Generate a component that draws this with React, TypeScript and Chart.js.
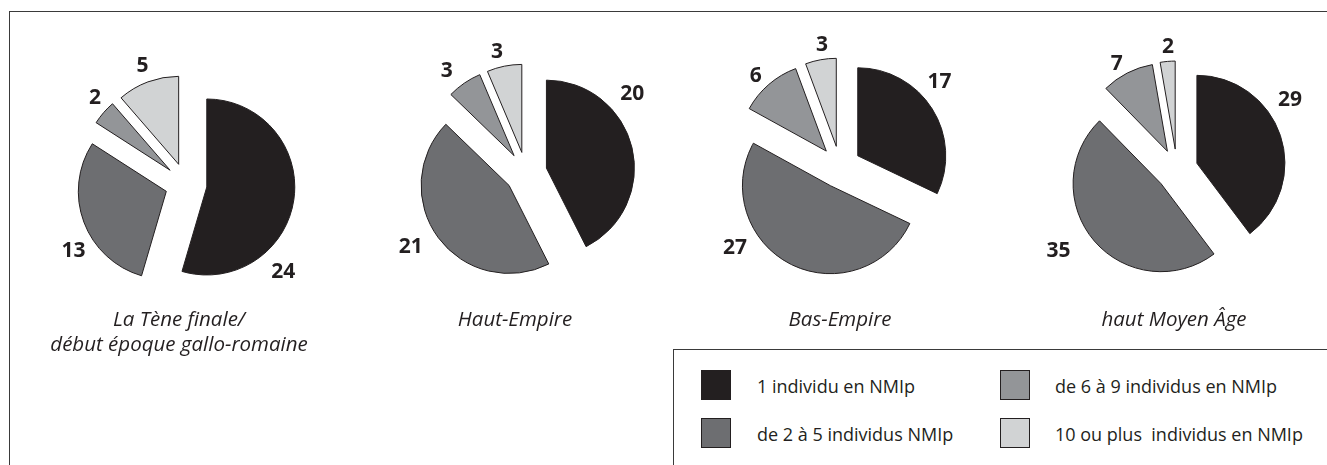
import React, { useEffect, useRef } from 'react';
import { Chart, PieController, ArcElement } from 'chart.js';

// ---------- data ----------
const PERIODS = ['La Tène finale/\ndébut époque gallo-romaine', 'Haut-Empire', 'Bas-Empire', 'haut Moyen Âge'];
const CATEGORIES = [
  '1 individu en NMIp',
  'de 2 à 5 individus NMIp',
  'de 6 à 9 individus en NMIp',
  '10 ou plus  individus en NMIp',
];
const LA_TENE = [24, 13, 2, 5];
const HAUT_EMPIRE = [20, 21, 3, 3];
const BAS_EMPIRE = [17, 27, 6, 3];
const HAUT_MOYEN_AGE = [29, 35, 7, 2];
const SERIES = [LA_TENE, HAUT_EMPIRE, BAS_EMPIRE, HAUT_MOYEN_AGE];

// ---------- style / layout ----------
const COLORS = ['#231f20', '#6d6e71', '#939598', '#d1d3d4'];
const INK = '#231f20';
const PIE_CENTERS = [[186, 184], [526, 173], [840, 167], [1177, 170]];
const TITLE_X = [179, 515, 840, 1174];
const RADIUS = 88;
const EXPLODE = 21;
const CANVAS = 320;
// label placement: [angle clockwise from top (deg), distance from pie centre (px)]
const LABEL_POLAR = [
  [[131.6, 130], [240, 130], [313.7, 126], [340, 127]],
  [[53, 133], [238, 136], [322.5, 130], [346.7, 126]],
  [[49, 132], [232.7, 132], [317.6, 125], [351.7, 125]],
  [[57.5, 134], [236, 143], [330.7, 123], [355.9, 125]],
];

class ExplodedArc extends ArcElement {
  static id = 'explodedArc';
  draw(ctx: CanvasRenderingContext2D) {
    const half = ((this as any).startAngle + (this as any).endAngle) / 2;
    ctx.save();
    ctx.translate(Math.cos(half) * EXPLODE, Math.sin(half) * EXPLODE);
    super.draw(ctx);
    ctx.restore();
  }
}

class ExplodedPie extends PieController {
  static id = 'explodedPie';
  static defaults = { dataElementType: 'explodedArc' };
}

Chart.register(ArcElement, PieController, ExplodedArc as any, ExplodedPie as any);

function labelPlugin(p: number) {
  return {
    id: 'sliceLabels' + p,
    afterDatasetsDraw(chart: any) {
      const meta = chart.getDatasetMeta(0);
      const ctx = chart.ctx as CanvasRenderingContext2D;
      ctx.save();
      ctx.font = 'bold 21px "Open Sans"';
      ctx.fillStyle = INK;
      ctx.textAlign = 'center';
      ctx.textBaseline = 'alphabetic';
      meta.data.forEach((arc: any, i: number) => {
        const [deg, dist] = LABEL_POLAR[p][i];
        const a = (deg * Math.PI) / 180;
        const x = arc.x + dist * Math.sin(a);
        const y = arc.y - dist * Math.cos(a);
        ctx.fillText(String(SERIES[p][i]), x, y + 7.5);
      });
      ctx.restore();
    },
  };
}

function PieCanvas({ p }: { p: number }) {
  const ref = useRef<HTMLCanvasElement>(null);
  useEffect(() => {
    if (!ref.current) return;
    const chart = new Chart(ref.current, {
      type: 'explodedPie' as any,
      data: {
        labels: CATEGORIES,
        datasets: [
          {
            data: SERIES[p],
            backgroundColor: COLORS,
            borderColor: INK,
            borderWidth: 1,
          },
        ],
      },
      options: {
        responsive: false,
        animation: false,
        radius: RADIUS,
        layout: { padding: 0 },
        events: [],
        plugins: { legend: { display: false }, tooltip: { enabled: false } },
      } as any,
      plugins: [labelPlugin(p)],
    });
    return () => chart.destroy();
  }, [p]);
  const [cx, cy] = PIE_CENTERS[p];
  return (
    <canvas
      ref={ref}
      width={CANVAS}
      height={CANVAS}
      style={{ position: 'absolute', left: cx - CANVAS / 2, top: cy - CANVAS / 2, width: CANVAS, height: CANVAS }}
    />
  );
}

const LEGEND_POS = [
  { sx: 701, sy: 370, tx: 757 },
  { sx: 701, sy: 418, tx: 757 },
  { sx: 1000, sy: 370, tx: 1055 },
  { sx: 1000, sy: 418, tx: 1055 },
];

export default function App() {
  return (
    <div
      style={{
        position: 'absolute',
        left: 0,
        top: 0,
        width: 1327,
        height: 465,
        overflow: 'hidden',
        background: '#fff',
        fontFamily: '"Open Sans", sans-serif',
        color: INK,
      }}
    >
      {/* frame lines */}
      <div
        style={{
          position: 'absolute',
          left: 9,
          top: 11,
          width: 1318,
          height: 460,
          borderTop: '1px solid #3a3a3a',
          borderLeft: '1px solid #3a3a3a',
          boxSizing: 'border-box',
        }}
      />
      {SERIES.map((_, p) => (
        <PieCanvas key={p} p={p} />
      ))}
      {PERIODS.map((t, p) => (
        <div
          key={'t' + p}
          style={{
            position: 'absolute',
            left: TITLE_X[p] - 200,
            width: 400,
            top: 306,
            textAlign: 'center',
            fontStyle: 'italic',
            fontSize: 20.5,
            lineHeight: '25px',
            whiteSpace: 'pre',
          }}
        >
          {t}
        </div>
      ))}
      {/* legend box */}
      <div
        style={{
          position: 'absolute',
          left: 673,
          top: 349,
          width: 660,
          height: 130,
          borderTop: '1px solid #3a3a3a',
          borderLeft: '1px solid #3a3a3a',
          boxSizing: 'border-box',
        }}
      />
      {CATEGORIES.map((c, i) => (
        <React.Fragment key={'l' + i}>
          <div
            style={{
              position: 'absolute',
              left: LEGEND_POS[i].sx,
              top: LEGEND_POS[i].sy,
              width: 30,
              height: 30,
              background: COLORS[i],
              border: '1px solid ' + INK,
              boxSizing: 'border-box',
            }}
          />
          <div
            style={{
              position: 'absolute',
              left: LEGEND_POS[i].tx,
              top: LEGEND_POS[i].sy + 16 - 13,
              fontSize: 18,
              lineHeight: '26px',
              whiteSpace: 'pre',
            }}
          >
            {c}
          </div>
        </React.Fragment>
      ))}
    </div>
  );
}
